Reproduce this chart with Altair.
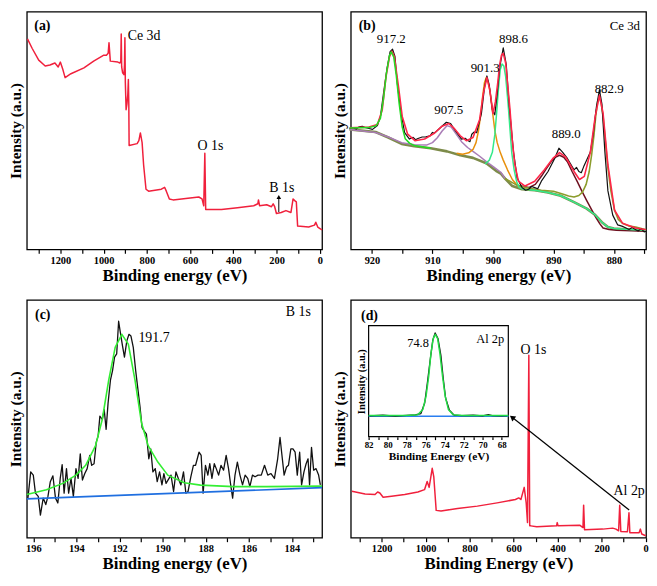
import altair as alt
import pandas as pd

FONT = "Liberation Serif, Times New Roman, serif"

# ---------------- (a) survey spectrum ----------------
A_EV = [1352, 1330, 1300, 1270, 1248, 1225, 1210, 1200, 1188, 1178,
        1151, 1091, 1046, 1001, 987, 979, 975, 969, 934, 925,
        920.5, 918.5, 916.5, 912, 906, 903.5, 901.5, 899.5, 896, 892,
        888, 885.5, 883.5, 882, 845, 837, 830, 822, 815, 804,
        792, 733, 718, 710, 696, 679, 620, 560, 545, 537,
        532, 528, 455, 381, 306, 287, 284, 279, 246, 224,
        216, 209, 201, 179, 157, 134, 124, 115, 109, 103,
        52, 25, 19, 10, -4, -10]
A_INT = [217, 207, 195, 189, 190, 192, 188, 193, 185, 177,
         181, 187, 194, 200, 200, 202, 213, 194, 193, 192,
         194, 222, 188, 182, 180, 190, 218, 172, 144, 150,
         160, 175, 150, 107, 109, 112, 120, 110, 87, 62,
         60, 62, 64, 60, 52, 51, 52.5, 54, 52, 45,
         99, 41, 41, 43, 45, 47, 51, 45, 46, 44,
         47, 44, 37, 38, 40, 38, 52, 50, 49, 24,
         23, 25, 28, 23, 21, 20]
A_TICKS = [0, 100, 200, 300, 400, 500, 600, 700, 800, 900, 1000, 1100, 1200, 1300]
A_LAB = ["Ce 3d", "O 1s", "B 1s"]
A_LAB_EV = [813, 506, 176]
A_LAB_INT = [220, 106, 63]

# ---------------- (b) Ce 3d ----------------
B_RAW_EV = [923.7, 923.2, 922.6, 922.1, 921.6, 921.0, 920.5, 919.9, 919.1, 918.6,
            918.1, 917.5, 917.0, 916.6, 916.2, 915.8, 915.2, 914.6, 913.8, 913.2,
            912.8, 912.4, 911.7, 911.1, 910.4, 910.0, 909.7, 908.7, 907.7, 907.0,
            906.2, 905.2, 904.6, 904.1, 903.8, 903.5, 903.1, 902.7, 901.9, 901.4,
            901.0, 900.6, 900.1, 899.7, 899.3, 898.9, 898.3, 897.8, 897.3, 896.6,
            896.0, 895.2, 894.6, 894.1, 893.6, 893.1, 892.6, 892.0, 890.9, 889.8,
            889.1, 888.5, 887.7, 886.6, 886.2, 885.8, 885.4, 885.0, 883.9, 883.4,
            882.9, 882.4, 882.0, 881.5, 881.0, 880.2, 879.4, 878.7, 878.0, 877.5,
            877.0, 876.4, 876.0, 875.5, 875.0, 874.7]
B_RAW_INT = [124.3, 125.5, 124, 126.3, 126.8, 125.3, 124.6, 123.7, 127.7, 137,
             160.3, 187, 203.7, 206.3, 198.7, 170.3, 140.3, 120.3, 113.7, 115.5,
             113, 114.3, 115.8, 116, 117, 120.5, 119.7, 125.3, 131, 129.7,
             122, 113.7, 114.5, 112, 111, 118.7, 121, 120.3, 140.3, 167,
             178.7, 168.7, 143.7, 138.7, 160.3, 187, 207.7, 190.3, 147, 100.3,
             73.7, 63.7, 61, 62, 64.8, 63.7, 62.5, 70.3, 80.3, 93.7,
             104.3, 100.3, 93.7, 82, 84.5, 80.3, 79, 85.3, 100.3, 120.3,
             147, 164.3, 150.3, 100.3, 60.3, 35.3, 25.3, 24, 22, 20.5,
             22.5, 20.3, 19, 21.5, 18, 18.7]
B_ENV_EV = [923.7, 920.5, 919.1, 918.3, 917.7, 917.1, 916.7, 916.3, 915.6, 915.0,
            914.1, 912.9, 911.3, 909.7, 908.4, 907.3, 906.5, 905.4, 904.4, 903.3,
            902.2, 901.6, 901.0, 900.5, 900.0, 899.6, 899.2, 898.9, 898.6, 898.3,
            897.9, 897.5, 897.2, 896.8, 896.4, 895.8, 894.7, 893.1, 891.5, 890.1,
            889.0, 888.0, 886.6, 885.7, 884.9, 883.9, 883.1, 882.4, 881.8, 881.0,
            879.9, 878.6, 876.4, 874.7]
B_ENV_INT = [125.3, 126, 128.7, 143.7, 177, 198.7, 204.3, 198.7, 167, 137,
             118.7, 112, 113.7, 119.7, 127, 129.7, 125.3, 117, 112, 115.3,
             133.7, 160.3, 177, 163.7, 140, 152, 172, 190, 200, 202,
             192, 165, 145, 112, 88, 70.3, 65.3, 70.3, 82, 93.7,
             99.7, 95.3, 80.3, 72, 75.3, 100.3, 137, 158.7, 140.3, 87,
             40.3, 27, 22, 20.3]
B_BG_EV = [923.7, 919.4, 917.3, 915.1, 913.0, 910.3, 907.6, 905.4, 903.3, 901.1,
           899.5, 898.7, 898.0, 896.8, 895.2, 893.1, 890.9, 888.8, 886.6, 884.5,
           883.2, 882.0, 881.0, 880.0, 876.9, 874.7]
B_BG_INT = [123.7, 121, 115.3, 108.7, 106.3, 104.3, 101, 97, 94.3, 88.7,
            81, 78, 73, 65.3, 62, 61, 58.7, 55.3, 48.7, 42,
            36, 28, 23, 21.5, 20.3, 19.7]
B_917_EV = [923.7, 920.5, 919.3, 918.6, 918.1, 917.6, 917.1, 916.8, 916.4, 916.0,
            915.5, 915.0, 914.5, 913.8, 913.0, 911.5, 910.3]
B_917_INT = [125, 125.5, 127.5, 135, 155, 182, 200, 203.5, 198, 180,
             150, 126, 114, 109.5, 107, 105.5, 104.3]
B_907_EV = [923.7, 919.4, 917.3, 915.1, 913.0, 911.0, 910.0, 909.2, 908.4, 907.6,
            906.9, 906.1, 905.2, 904.2, 903.3, 902.2, 901.1, 899.9, 898.7, 898.0]
B_907_INT = [123.5, 120.5, 115.8, 110, 107.8, 107.5, 110, 115, 122, 127.5,
             126, 119, 111, 105, 101, 96, 90.5, 85, 79.5, 73]
B_901_EV = [906.0, 905.0, 904.0, 903.3, 902.8, 902.4, 902.0, 901.7, 901.4, 901.1,
            900.8, 900.5, 900.1, 899.7, 899.3, 898.8, 898.3, 897.6, 896.8, 896.0,
            895.2, 894.0]
B_901_INT = [99, 98, 99.5, 103, 110, 122, 140, 158, 172, 177,
             173, 163, 143, 123, 110, 100, 92, 82, 72, 66,
             62.5, 61.5]
B_898_EV = [901.3, 900.6, 900.1, 899.7, 899.4, 899.1, 898.8, 898.5, 898.2, 897.9,
            897.5, 897.2, 896.9, 896.5, 896.1, 895.7, 895.0, 893.1, 890.9, 888.8,
            886.6, 884.5, 883.2, 882.0, 881.0, 880.0, 876.9, 874.7]
B_898_INT = [88, 92, 100, 118, 140, 165, 185, 191, 189, 178,
             150, 125, 100, 82, 70, 64, 62, 61, 58.7, 55.3,
             48.7, 42, 36, 28, 23, 21.5, 20.3, 19.7]
B_889_EV = [896.0, 894.1, 893.0, 892.0, 891.2, 890.4, 889.7, 889.0, 888.3, 887.7,
            886.9, 886.1, 885.3, 884.5, 883.7, 882.9, 882.3, 881.8, 880.8, 879.6, 874.7]
B_889_INT = [66, 63.7, 67, 75.3, 83, 90.3, 95, 97, 95, 90.3,
             80, 70.3, 60, 50.3, 41, 32, 26, 22, 20.5, 19.7, 18.7]
B_883_EV = [898.0, 896.0, 894.0, 892.0, 890.0, 888.5, 887.5, 886.6, 885.8, 885.2,
            884.6, 884.1, 883.7, 883.3, 883.0, 882.7, 882.4, 882.1, 881.8, 881.4,
            881.0, 880.5, 879.9, 879.3, 878.6, 877.5, 876.4, 874.7]
B_883_INT = [73, 66, 63, 61, 60, 57, 55, 54, 55.5, 59,
             67, 80, 97, 118, 138, 152, 157, 150, 137, 110,
             83.7, 60, 40.3, 31, 27, 24, 23, 20.3]
B_TICKS = [875, 880, 885, 890, 895, 900, 905, 910, 915, 920]
B_LAB = ["917.2", "907.5", "901.3", "898.6", "889.0", "882.9", "Ce 3d"]
B_LAB_EV = [916.8, 907.3, 901.3, 896.6, 887.9, 880.8, 878.2]
B_LAB_INT = [217, 144, 187, 217, 119, 165, 230]

# ---------------- (c) B 1s ----------------
C_RAW_EV = [196.25, 196.12, 196.0, 195.9, 195.77, 195.67, 195.54, 195.42, 195.32, 195.21,
            195.09, 194.97, 194.86, 194.75, 194.66, 194.57, 194.46, 194.36, 194.25, 194.14,
            194.02, 193.92, 193.82, 193.72, 193.61, 193.5, 193.38, 193.29, 193.18, 193.08,
            192.99, 192.91, 192.8, 192.71, 192.62, 192.53, 192.42, 192.32, 192.23, 192.13,
            192.04, 191.97, 191.86, 191.77, 191.66, 191.56, 191.47, 191.36, 191.25, 191.16,
            191.05, 190.95, 190.86, 190.75, 190.64, 190.55, 190.45, 190.34, 190.25, 190.14,
            190.03, 189.94, 189.84,
            189.61, 189.49, 189.38, 189.27, 189.15, 189.03, 188.92, 188.82, 188.69, 188.57,
            188.47, 188.31, 188.21, 188.12, 188.01, 187.9, 187.81, 187.71, 187.6, 187.51,
            187.4, 187.29, 187.17, 187.05, 186.94, 186.84, 186.75, 186.64, 186.53, 186.41,
            186.29, 186.17, 186.05, 185.95, 185.83, 185.71, 185.57, 185.42, 185.27, 185.12,
            184.97, 184.81, 184.66, 184.55, 184.46, 184.36, 184.25, 184.16, 184.05, 183.95,
            183.85, 183.75, 183.64, 183.55, 183.44, 183.34, 183.25, 183.18, 183.09, 182.99,
            182.88, 182.76, 182.68]
C_RAW_INT = [40, 67, 63.7, 45.3, 42, 23, 40.3, 33.7, 42, 57,
             63, 40.3, 35.3, 60.3, 74.3, 45.3, 70.3, 45.3, 60.3, 42,
             70.3, 60.3, 85.3, 58.7, 65.3, 70.3, 83.7, 73.7, 75.3, 97,
             103.7, 123.7, 120.3, 130.3, 110.3, 137, 160.3, 170.3, 183.7, 187,
             220.3, 210.3, 195.3, 183.7, 200.3, 207, 205.3, 193.7, 170.3, 153.7,
             133.7, 112, 108.7, 105.3, 80.3, 90.3, 67, 70.3, 57, 67,
             53.7, 65.3, 55.3,
             63.7, 47, 67, 60.3, 53.7, 67, 45.3, 47, 62, 73.7,
             73.7, 87, 83.7, 45.3, 73.7, 63.7, 75.3, 60.3, 75.3, 70.3,
             63.7, 73.7, 68.7, 83.7, 70.3, 53.7, 40.3, 63.7, 77, 63.7,
             53.7, 63.7, 60.3, 52, 63.7, 62, 63.7, 63.7, 73.7, 63.7,
             65.3, 60.3, 80.3, 102, 83.7, 63.7, 72, 73.7, 90.3, 90.3,
             87, 63.7, 87, 53.7, 67, 75.3, 80.3, 53.7, 92, 68.7,
             70.3, 63.7, 53.7]
C_FIT_EV = [196.3, 195.39, 194.63, 194.02, 193.57, 193.11, 192.8, 192.5, 192.2, 191.89,
            191.59, 191.28, 190.98, 190.67, 190.22, 189.76, 189.0, 188.24, 186.72, 185.19, 182.6]
C_FIT_INT = [44, 48.7, 55.3, 63.7, 73.7, 93.7, 120.3, 160.3, 193.7, 207,
             197, 160.3, 117, 93.7, 77, 63.7, 56, 53.5, 52, 52, 52.5]
C_BASE_EV = [196.3, 182.6]
C_BASE_INT = [39.5, 51]
C_TICKS = [183, 184, 185, 186, 187, 188, 189, 190, 191, 192, 193, 194, 195, 196]
C_LAB = ["191.7", "B 1s"]
C_LAB_EV = [190.4, 183.7]
C_LAB_INT = [203, 230]

# ---------------- (d) survey + Al 2p inset ----------------
D_EV = [1335, 1275, 1230, 1218, 1208, 1193, 1155, 1095, 1035, 1005,
        993, 984, 970, 963, 952, 930, 855, 765, 675, 592,
        577, 567, 552, 543, 537, 531, 527, 522, 495, 405,
        402, 398, 300, 285, 282, 278, 195, 150, 135, 123,
        118, 113, 83, 76, 72, 30, 24, 18, 0]
D_INT = [47, 44.3, 43.7, 46.3, 45.3, 41, 42, 43.7, 46.3, 48.7,
         57, 51, 70.3, 62, 27.7, 27, 29.7, 32, 35.3, 38.7,
         40.3, 38.7, 51, 35.3, 15.3, 185, 12, 12, 11, 12,
         15.3, 12, 12.7, 10.3, 33, 8, 8.7, 9.7, 8.7, 7,
         33, 6.3, 6, 25.3, 5, 5, 8.7, 3.7, 2]
D_LAB = ["O 1s", "Al 2p"]
D_LAB_EV = [510, 75]
D_LAB_INT = [190, 47]
D_ARROW_EV = [75, 607]
D_ARROW_INT = [28, 122]

I_RAW_EV = [81.9, 80.5, 79.2, 78.0, 77.1, 76.5, 76.1, 75.8, 75.5, 75.25,
            75.0, 74.7, 74.4, 74.15, 73.9, 73.5, 73.0, 72.2, 71.0, 70.0,
            69.4, 69.0, 68.0, 67.4]
I_RAW_INT = [21.0, 21.6, 20.8, 21.5, 22.0, 23.3, 34, 55.7, 79, 97.3,
             104.7, 99, 82.3, 59, 39, 26.7, 21.7, 21.2, 21.6, 21.0,
             22.2, 21.3, 21.0, 21.3]
I_FIT_EV = [82, 78.04, 76.83, 76.3, 75.96, 75.68, 75.44, 75.2, 74.99, 74.74,
            74.5, 74.22, 73.94, 73.6, 73.11, 72.14, 67.3]
I_FIT_INT = [21.3, 21.3, 22, 27.3, 40.7, 60.7, 84, 99, 103.3, 99,
             84, 60.7, 40.7, 27.3, 22, 21.3, 21.3]
I_BASE_EV = [82, 67.3]
I_BASE_INT = [20.6, 20.6]
I_TICKS = [68, 69, 70, 71, 72, 73, 74, 75, 76, 77, 78, 79, 80, 81, 82]
I_LAB = ["74.8", "Al 2p"]
I_LAB_EV = [76.8, 69.2]
I_LAB_INT = [94, 99]

PANEL_TAGS = ["(a)", "(b)", "(c)", "(d)"]
TAG_X = [1283, 920.8, 195.56, 1255]
TAG_Y = [230, 230, 227, 225]

# ---------------- layout ----------------
W = 298
H_TOP = 240
H_BOT = 240


def line_df(xs, ys):
    return pd.DataFrame({"x": xs, "y": ys, "i": list(range(len(xs)))})


def xscale(lo, hi, rng=None):
    if rng is None:
        return alt.Scale(domain=[lo, hi], reverse=True, nice=False, zero=False)
    return alt.Scale(domain=[lo, hi], reverse=True, nice=False, zero=False, range=rng)


def yscale(lo, hi, rng=None):
    if rng is None:
        return alt.Scale(domain=[lo, hi], nice=False, zero=False)
    return alt.Scale(domain=[lo, hi], nice=False, zero=False, range=rng)


def xaxis(values, every, title="Binding energy (eV)", **kw):
    opts = dict(values=values, format="d",
                labelExpr="datum.value % " + str(every) + " == 0 ? datum.label : ''",
                title=title, grid=False, domain=False, ticks=True, tickSize=4,
                tickWidth=1.2, tickColor="black", labelFont=FONT, labelFontSize=10.5,
                labelFontWeight="bold", labelColor="black", labelPadding=2,
                labelFlush=False, labelOverlap=False, titleFont=FONT,
                titleFontSize=17, titleFontWeight="bold", titleColor="black",
                titlePadding=2)
    opts.update(kw)
    return alt.Axis(**opts)


def yaxis(title="Intensity (a.u.)", **kw):
    opts = dict(title=title, labels=False, ticks=False, domain=False, grid=False,
                titleFont=FONT, titleFontSize=15.5, titleFontWeight="bold",
                titleColor="black", titlePadding=3)
    opts.update(kw)
    return alt.Axis(**opts)


class Panel:
    def __init__(self, xs, ys, xa, ya):
        self.xs, self.ys, self.xa, self.ya = xs, ys, xa, ya

    def enc(self, xf="x", yf="y"):
        return dict(x=alt.X(xf + ":Q", scale=self.xs, axis=self.xa),
                    y=alt.Y(yf + ":Q", scale=self.ys, axis=self.ya))

    def line(self, xs, ys, color, width=1.4, opacity=1.0):
        return alt.Chart(line_df(xs, ys)).mark_line(
            color=color, strokeWidth=width, opacity=opacity, strokeJoin="round"
        ).encode(order=alt.Order("i:Q"), **self.enc())

    def text(self, xs, ys, labels, size=13, weight="normal"):
        d = pd.DataFrame({"x": xs, "y": ys, "t": labels})
        return alt.Chart(d).mark_text(
            font=FONT, fontSize=size, fontWeight=weight, color="black",
            align="center", baseline="middle"
        ).encode(text="t:N", **self.enc())


# ---- panel a ----
pa = Panel(xscale(-10, 1355), yscale(0, 245), xaxis(A_TICKS, 200), yaxis())
a_arrow = alt.Chart(pd.DataFrame({"x": [190], "y": [38.5], "y2": [52]})).mark_rule(
    color="black", strokeWidth=1).encode(y2="y2:Q", **pa.enc())
a_head = alt.Chart(pd.DataFrame({"x": [190], "y": [54]})).mark_point(
    shape="triangle-up", filled=True, color="black", size=22, opacity=1).encode(**pa.enc())
panel_a = alt.layer(
    pa.line(A_EV, A_INT, "#f0203c", 1.5),
    a_arrow, a_head,
    pa.text(A_LAB_EV, A_LAB_INT, A_LAB, 14),
    pa.text([TAG_X[0]], [TAG_Y[0]], [PANEL_TAGS[0]], 14, "bold"),
).properties(width=W, height=H_TOP)

# ---- panel b ----
pb = Panel(xscale(874.7, 923.5), yscale(0, 245), xaxis(B_TICKS, 10), yaxis())
panel_b = alt.layer(
    pb.line(B_BG_EV, B_BG_INT, "#7d8b4a", 2.6),
    pb.line(B_907_EV, B_907_INT, "#a97cb6", 1.5),
    pb.line(B_901_EV, B_901_INT, "#e8900c", 1.5),
    pb.line(B_889_EV, B_889_INT, "#6e1020", 1.5),
    pb.line(B_883_EV, B_883_INT, "#8c9c2c", 1.6),
    pb.line(B_898_EV, B_898_INT, "#34ea8a", 1.5),
    pb.line(B_RAW_EV, B_RAW_INT, "#111111", 1.2),
    pb.line(B_ENV_EV, B_ENV_INT, "#ff2648", 1.6),
    pb.line(B_917_EV, B_917_INT, "#22dd22", 1.5),
    pb.text(B_LAB_EV, B_LAB_INT, B_LAB, 13),
    pb.text([TAG_X[1]], [TAG_Y[1]], [PANEL_TAGS[1]], 14, "bold"),
).properties(width=W, height=H_TOP)

# ---- panel c ----
pc = Panel(xscale(182.6, 196.3), yscale(0, 242), xaxis(C_TICKS, 2), yaxis())
panel_c = alt.layer(
    pc.line(C_RAW_EV, C_RAW_INT, "#111111", 1.3),
    pc.line(C_FIT_EV, C_FIT_INT, "#33ee33", 1.6),
    pc.line(C_BASE_EV, C_BASE_INT, "#1f6fe0", 1.6),
    pc.text(C_LAB_EV, C_LAB_INT, C_LAB, 14),
    pc.text([TAG_X[2]], [TAG_Y[2]], [PANEL_TAGS[2]], 14, "bold"),
).properties(width=W, height=H_BOT)

# ---- panel d ----
pd_ = Panel(xscale(-1.5, 1340), yscale(0, 241),
            xaxis(A_TICKS, 200, title="Binding Energy (eV)"), yaxis())
d_arrow = alt.Chart(pd.DataFrame({"x": [D_ARROW_EV[0]], "y": [D_ARROW_INT[0]],
                                  "x2": [D_ARROW_EV[1]], "y2": [D_ARROW_INT[1]]})).mark_rule(
    color="black", strokeWidth=1.2).encode(x2="x2:Q", y2="y2:Q", **pd_.enc())
d_head = alt.Chart(pd.DataFrame({"x": [D_ARROW_EV[1]], "y": [D_ARROW_INT[1]]})).mark_point(
    shape="triangle-up", filled=True, color="black", size=40, angle=308, opacity=1).encode(**pd_.enc())
d_main = alt.layer(
    pd_.line(D_EV, D_INT, "#f0203c", 1.5),
    d_arrow, d_head,
    pd_.text(D_LAB_EV, D_LAB_INT, D_LAB, 14),
    pd_.text([TAG_X[3]], [TAG_Y[3]], [PANEL_TAGS[3]], 14, "bold"),
)

IX0, IX1 = round(0.060 * W), round(0.534 * W)
IY_TOP, IY_BOT = round(0.108 * H_BOT), round(0.573 * H_BOT)
pi = Panel(
    xscale(67.3, 82, rng=[IX0, IX1]),
    yscale(0, 112, rng=[IY_BOT, IY_TOP]),
    xaxis(I_TICKS, 2, title="Binding Energy (eV)", orient="bottom",
          offset=-(H_BOT - IY_BOT), labelFontSize=9, titleFontSize=11.5,
          tickSize=3, labelPadding=1, titlePadding=1),
    yaxis(orient="left", offset=-IX0, titleFontSize=10.5, titlePadding=2),
)
i_frame = alt.Chart(pd.DataFrame({"x": [82], "x2": [67.3], "y": [0], "y2": [112]})).mark_rect(
    fill="white", stroke="black", strokeWidth=1.2).encode(x2="x2:Q", y2="y2:Q", **pi.enc())
d_inset = alt.layer(
    i_frame,
    pi.line(I_BASE_EV, I_BASE_INT, "#2a7ef0", 1.4),
    pi.line(I_RAW_EV, I_RAW_INT, "#111111", 1.3),
    pi.line(I_FIT_EV, I_FIT_INT, "#22dd44", 1.5),
    pi.text(I_LAB_EV, I_LAB_INT, I_LAB, 12.5),
)
panel_d = alt.layer(d_main, d_inset).resolve_scale(
    x="independent", y="independent").properties(width=W, height=H_BOT)

chart = alt.vconcat(
    alt.hconcat(panel_a, panel_b, spacing=8),
    alt.hconcat(panel_c, panel_d, spacing=8),
    spacing=14,
).properties(padding={"left": 0, "top": 0, "right": 0, "bottom": 0}).configure(
    background="white", font=FONT
).configure_view(
    stroke="black", strokeWidth=1.3
)

chart.save("out.html", embed_options={"renderer": "svg", "actions": False})
